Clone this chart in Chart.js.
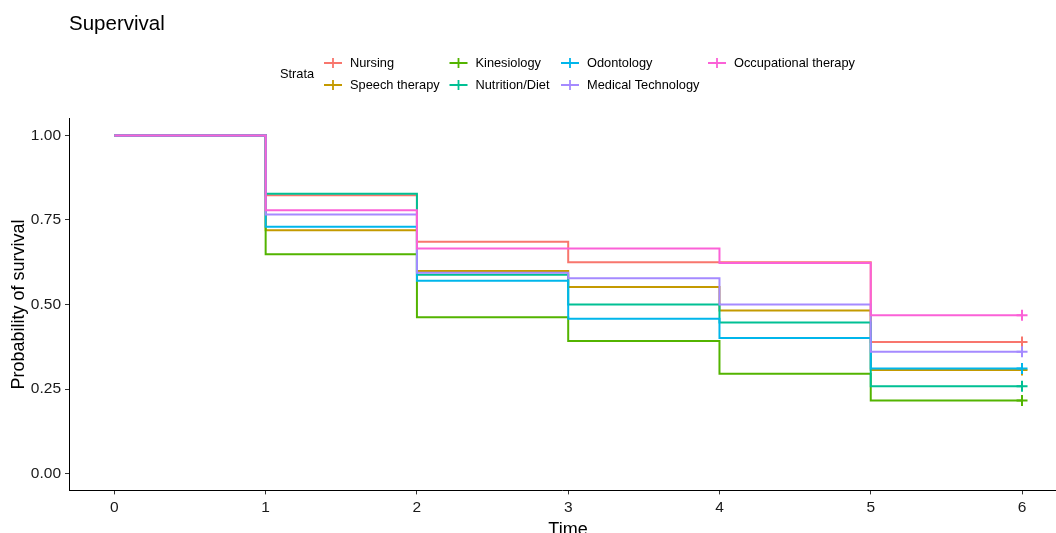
<!DOCTYPE html>
<html>
<head>
<meta charset="utf-8">
<script src="https://cdn.jsdelivr.net/npm/chart.js@4.4.1/dist/chart.umd.min.js"></script>
<style>
  html, body { margin: 0; padding: 0; background: #fff; }
  #wrap { width: 1056px; height: 533px; }
</style>
</head>
<body>
<div id="wrap"><canvas id="km" width="1056" height="533"></canvas></div>
<script>
// survival estimate at each time (value after any drop at that time)
var times = [0, 1, 2, 3, 4, 5, 6];
var nursing      = [1.00, 0.823, 0.686, 0.625, 0.625, 0.389, 0.389];
var speech       = [1.00, 0.720, 0.599, 0.552, 0.482, 0.306, 0.306];
var kinesiology  = [1.00, 0.649, 0.462, 0.392, 0.295, 0.216, 0.216];
var nutrition    = [1.00, 0.828, 0.588, 0.500, 0.447, 0.258, 0.258];
var odontology   = [1.00, 0.730, 0.570, 0.458, 0.401, 0.311, 0.311];
var medtech      = [1.00, 0.766, 0.594, 0.578, 0.500, 0.360, 0.360];
var occupational = [1.00, 0.779, 0.666, 0.666, 0.623, 0.468, 0.468];

var strata = ["Nursing", "Speech therapy", "Kinesiology", "Nutrition/Diet",
              "Odontology", "Medical Technology", "Occupational therapy"];
var series = [nursing, speech, kinesiology, nutrition, odontology, medtech, occupational];
var colors = ["#F8766D", "#C49A00", "#53B400", "#00C094", "#00B6EB", "#A58AFF", "#FB61D7"];

var xTicks = [0, 1, 2, 3, 4, 5, 6];
var yTicks = [0, 0.25, 0.5, 0.75, 1];

var FONT = "'Liberation Sans', Arial, sans-serif";

function points(vals)
{
    return times.map(function(t, i) { return { x: t, y: vals[i] }; });
}

var datasets = series.map(function(vals, i) {
    return {
        label: strata[i],
        data: points(vals),
        borderColor: colors[i],
        backgroundColor: colors[i],
        borderWidth: 2,
        stepped: true,
        fill: false,
        pointStyle: "cross",
        pointRadius: times.map(function(t, j) { return j == times.length - 1 ? 5.5 : 0; }),
        pointBorderWidth: 2,
        pointHoverRadius: 0,
        order: series.length - i
    };
});

// title, axis titles and the two-row legend
var decor = {
    id: "decor",
    afterDraw: function(chart) {
        var ctx = chart.ctx;
        var area = chart.chartArea;
        ctx.save();
        ctx.fillStyle = "#000";
        ctx.textBaseline = "alphabetic";

        ctx.font = "20.5px " + FONT;
        ctx.textAlign = "left";
        ctx.fillText("Supervival", 69, 29.5);

        ctx.font = "18px " + FONT;
        ctx.textAlign = "center";
        ctx.fillText("Time", 568, 534.5);

        ctx.save();
        ctx.translate(24, (area.top + area.bottom) / 2);
        ctx.rotate(-Math.PI / 2);
        ctx.fillText("Probability of survival", 0, 0);
        ctx.restore();

        ctx.font = "12.8px " + FONT;
        ctx.textAlign = "left";
        ctx.textBaseline = "middle";
        ctx.fillText("Strata", 280, 74);

        var colX = [333, 458.5, 570, 717];
        var rowY = [63, 85];
        for (var i = 0; i < strata.length; i++) {
            var cx = colX[Math.floor(i / 2)];
            var cy = rowY[i % 2];
            ctx.strokeStyle = colors[i];
            ctx.lineWidth = 1.8;
            ctx.beginPath();
            ctx.moveTo(cx - 9, cy);
            ctx.lineTo(cx + 9, cy);
            ctx.moveTo(cx, cy - 5);
            ctx.lineTo(cx, cy + 5);
            ctx.stroke();
            ctx.fillStyle = "#000";
            ctx.fillText(strata[i], cx + 17, cy + 0.5);
        }
        ctx.restore();
    }
};

new Chart(document.getElementById("km"), {
    type: "line",
    data: { datasets: datasets },
    options: {
        responsive: false,
        animation: false,
        events: [],
        layout: { autoPadding: false, padding: { top: 118.6, right: 1, left: 0, bottom: 0 } },
        plugins: {
            legend: { display: false },
            tooltip: { enabled: false },
            title: { display: false }
        },
        scales: {
            x: {
                type: "linear",
                min: -0.3,
                max: 6.218,
                afterBuildTicks: function(s) { s.ticks = xTicks.map(function(v) { return { value: v }; }); },
                afterFit: function(s) { s.height = 42.6; s.paddingLeft = 0; s.paddingRight = 0; },
                grid: { display: true, drawOnChartArea: false, drawTicks: true, tickLength: 4, color: "#333", lineWidth: 1 },
                border: { display: true, color: "#000", width: 1 },
                ticks: {
                    color: "#1a1a1a",
                    padding: 4,
                    maxRotation: 0,
                    font: { family: FONT, size: 15.5 },
                    callback: function(v) { return String(v); }
                }
            },
            y: {
                type: "linear",
                min: -0.05,
                max: 1.05,
                afterBuildTicks: function(s) { s.ticks = yTicks.map(function(v) { return { value: v }; }); },
                afterFit: function(s) { s.width = 69; s.paddingTop = 0; s.paddingBottom = 0; },
                grid: { display: true, drawOnChartArea: false, drawTicks: true, tickLength: 4, color: "#333", lineWidth: 1 },
                border: { display: true, color: "#000", width: 1 },
                ticks: {
                    color: "#1a1a1a",
                    padding: 4,
                    font: { family: FONT, size: 15.5 },
                    callback: function(v) { return v.toFixed(2); }
                }
            }
        }
    },
    plugins: [decor]
});
</script>
</body>
</html>
